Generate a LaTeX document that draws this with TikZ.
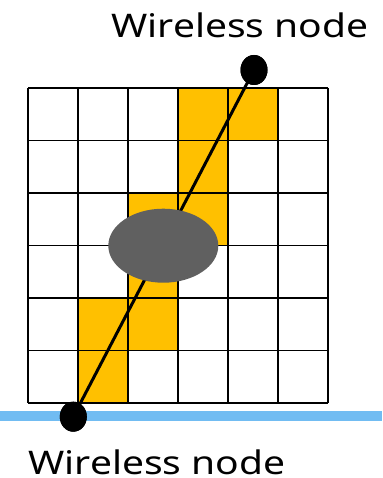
\documentclass[tikz,border=0pt]{standalone}
\usepackage{fontspec}
\setmainfont{Noto Sans}
\usetikzlibrary{positioning, shapes.geometric}

\definecolor{cellyellow}{HTML}{FFC000}
\definecolor{obstgray}{HTML}{606060}
\definecolor{floorblue}{HTML}{71BCF2}

\newcommand{\widetext}[1]{\scalebox{1.2}[1]{#1}}

\begin{document}
\begin{tikzpicture}[x=1pt, y=-1pt,
	hitcell/.style={fill=cellyellow, draw=none},
	radio/.style={ellipse, fill=black, minimum width=27pt, minimum height=30pt, inner sep=0pt},
	wlabel/.style={anchor=base, inner sep=0pt, font=\fontsize{32.5}{32.5}\selectfont}]
	\useasboundingbox (0,0) rectangle (382,478);
	% floor line
	\draw[floorblue, line width=9.5pt] (0,416) -- (382,416);
	% cells crossed by the link
	\foreach \c/\r in {3/0, 4/0, 3/1, 2/2, 3/2, 2/3, 1/4, 2/4, 1/5}{
		\fill[hitcell] ({28+50*\c},{88+52.5*\r}) rectangle ({78+50*\c},{140.5+52.5*\r});
	}
	% grid
	\foreach \c in {0,...,6}{
		\draw[line width=1.5pt] ({28+50*\c},88) -- ({28+50*\c},403);
	}
	\foreach \r in {0,...,6}{
		\draw[line width=1.5pt] (28,{88+52.5*\r}) -- (328,{88+52.5*\r});
	}
	% end points and link
	\node[radio] (tx) at (254,70) {};
	\node[radio] (rx) at (73.3,416.7) {};
	\draw[line width=3pt] (rx.center) -- (tx.center);
	\node[ellipse, fill=obstgray, minimum width=110pt, minimum height=74pt, inner sep=0pt] (obstacle) at (163.3,245.7) {};
	\node[radio] at (tx) {};
	\node[radio] at (rx) {};
	% labels
	\node[wlabel] (txlabel) at (240,37.5) {\widetext{Wireless node}};
	\node[wlabel] (rxlabel) at (157,474.3) {\widetext{Wireless node}};
\end{tikzpicture}
\end{document}
